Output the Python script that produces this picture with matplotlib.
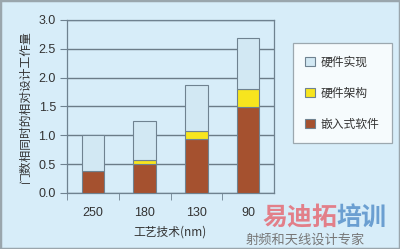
import matplotlib
matplotlib.use("Agg")
import matplotlib.pyplot as plt
from matplotlib.patches import Rectangle

plt.rcParams['font.family'] = ['Noto Sans CJK SC', 'DejaVu Sans']

categories = ["250", "180", "130", "90"]
embedded_sw = [0.38, 0.50, 0.93, 1.49]
hw_arch = [0.00, 0.07, 0.15, 0.31]
hw_impl = [0.62, 0.68, 0.79, 0.88]
series_labels = ["硬件实现", "硬件架构", "嵌入式软件"]
yticks = [0.0, 0.5, 1.0, 1.5, 2.0, 2.5, 3.0]

bg = "#d7edf9"
edge = "#6f8290"
c_impl = "#d2e8f3"
c_arch = "#f7e51e"
c_emb = "#a5512f"

fig = plt.figure(figsize=(4.0, 2.49), dpi=100, facecolor=bg)
fig.patches.append(Rectangle((0, 0), 1, 1, transform=fig.transFigure,
                             fill=False, edgecolor="#9aa6ad", linewidth=2.5))

ax = fig.add_axes([0.1675, 0.225, 0.5175, 0.695])
ax.set_facecolor(bg)
x = [i + 0.5 for i in range(len(categories))]
w = 0.43
b1 = ax.bar(x, embedded_sw, w, color=c_emb, edgecolor=edge, linewidth=0.8, zorder=3)
bottom2 = embedded_sw
b2 = ax.bar(x, hw_arch, w, bottom=bottom2, color=c_arch, edgecolor=edge, linewidth=0.8, zorder=3)
bottom3 = [a + b for a, b in zip(embedded_sw, hw_arch)]
b3 = ax.bar(x, hw_impl, w, bottom=bottom3, color=c_impl, edgecolor=edge, linewidth=0.8, zorder=3)

ax.set_xlim(0, 4)
ax.set_ylim(0, 3.0)
ax.set_yticks(yticks)
ax.set_yticklabels([f"{v:.1f}" for v in yticks], family=['Liberation Sans'], fontsize=9, color="#333333")
ax.set_xticks(x)
ax.set_xticklabels(categories, family=['Liberation Sans'], fontsize=9, color="#333333")
ax.set_xticks([0, 1, 2, 3], minor=True)
ax.tick_params(axis='x', which='major', length=0, pad=10)
ax.tick_params(axis='x', which='minor', length=5, color=edge, direction='out')
ax.tick_params(axis='y', length=5, color=edge, pad=3, direction='out')
ax.grid(axis='y', color="#6b7c88", linewidth=1.0, zorder=0)
for s in ax.spines.values():
    s.set_color(edge)
    s.set_linewidth(0.9)

ax.set_xlabel("工艺技术(nm)", fontsize=8.5, color="#333333", labelpad=5)
ax.set_ylabel("门数相同时的相对设计工作量", fontsize=8.5, color="#333333", labelpad=5)

leg = fig.legend([b3, b2, b1], series_labels, loc='upper left',
                 bbox_to_anchor=(0.7325, 0.827), frameon=True, fontsize=8.5,
                 handlelength=0.8, handleheight=0.8, handletextpad=0.5,
                 labelspacing=1.55, borderpad=1.05, fancybox=False,
                 borderaxespad=0)
leg.get_frame().set_edgecolor("#8a959c")
leg.get_frame().set_linewidth(0.9)
for t in leg.get_texts():
    t.set_color("#333333")

# watermark
fig.text(0.655, 0.125, "易迪拓", fontsize=18, fontweight='bold', color="#e8505a",
         alpha=0.7, ha='left', va='center')
fig.text(0.84, 0.125, "培训", fontsize=18, fontweight='bold', color="#3d7ec0",
         alpha=0.7, ha='left', va='center')
fig.text(0.615, 0.036, "射频和天线设计专家", fontsize=9.5, color="#777777",
         ha='left', va='center')

fig.savefig("out.png", dpi=100, facecolor=bg)
